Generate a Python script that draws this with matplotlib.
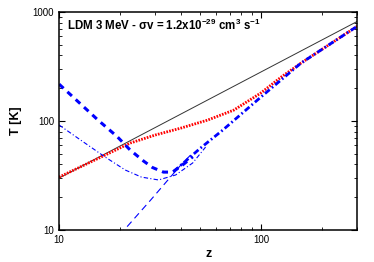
import numpy as np
import matplotlib
matplotlib.use('Agg')
import matplotlib.pyplot as plt

plt.rcParams['font.family'] = ['Liberation Sans', 'DejaVu Sans']
plt.rcParams['mathtext.fontset'] = 'custom'
plt.rcParams['mathtext.rm'] = 'Liberation Sans:bold'
plt.rcParams['mathtext.bf'] = 'Liberation Sans:bold'
plt.rcParams['mathtext.it'] = 'Liberation Sans:bold'
plt.rcParams['mathtext.sf'] = 'Liberation Sans:bold'

# CMB temperature
z_cmb = [10, 300]
T_cmb = [30, 820]

# gas temperature with DM (red dotted)
z_red = [10, 16.9, 22.5, 30, 40, 54.4, 73.4, 100, 126, 158, 300]
T_red = [30.6, 48.7, 62.8, 74.5, 86, 102, 126, 181, 253, 340, 740]

# blue thick dash-dot
z_bdd = [37, 50.2, 64.7, 100, 158, 300]
T_bdd = [34.5, 56.5, 82.6, 166, 340, 740]

# blue thick dashed (big U)
z_bdash = [10, 12.7, 15.6, 19.4, 22.5, 26.2, 29.0, 32.9, 36.5, 40.9, 46]
T_bdash = [218, 145, 102, 72, 54.2, 43, 37.5, 34, 34.0, 39.5, 47]

# blue thin dash-dot (small U)
z_bthin = [10, 12.7, 16.9, 21.3, 25.6, 31.1, 37.8, 45.9, 53.2]
T_bthin = [92, 67.5, 46.8, 35.5, 30.6, 28.8, 32, 41.2, 57.7]

# blue thin dashed (adiabatic)
z_adia = [20, 21.0, 28.4, 40.9, 45]
T_adia = [9.0, 10, 18.8, 41.2, 49]

fig = plt.figure(figsize=(3.74, 2.62), dpi=100)
ax = fig.add_axes([0.158, 0.122, 0.797, 0.832])

ax.plot(z_cmb, T_cmb, color='#333333', lw=0.7)
ax.plot(z_red, T_red, color='red', lw=2.0, ls=(0, (0.6, 0.45)))
ax.plot(z_bdd, T_bdd, color='blue', lw=2.0, ls=(0, (2.2, 1.0, 0.6, 1.0)))
ax.plot(z_bdash, T_bdash, color='blue', lw=2.2, ls=(0, (2.0, 1.7)))
ax.plot(z_bthin, T_bthin, color='blue', lw=0.8, ls=(0, (4, 2, 1, 2)))
ax.plot(z_adia, T_adia, color='blue', lw=0.8, ls=(0, (6, 4)))

ax.set_xscale('log')
ax.set_yscale('log')
ax.set_xlim(10, 300)
ax.set_ylim(10, 1000)

ax.tick_params(which='both', direction='in', top=True, right=True, labelsize=7)
ax.tick_params(which='major', length=4, width=0.8)
ax.tick_params(which='minor', length=2, width=0.6)
ax.xaxis.set_major_formatter(matplotlib.ticker.FormatStrFormatter('%d'))
ax.yaxis.set_major_formatter(matplotlib.ticker.FormatStrFormatter('%d'))
for s in ax.spines.values():
    s.set_linewidth(1.1)

ax.set_xlabel('z', fontsize=9, fontweight='bold', labelpad=2.5)
ax.set_ylabel('T [K]', fontsize=9, fontweight='bold', labelpad=8)

ax.text(0.027, 0.94, 'LDM 3 MeV - $\\sigma$v = 1.2x10$^{-29}$ cm$^{3}$ s$^{-1}$',
        transform=ax.transAxes, fontsize=8.3, fontweight='bold', va='center')

fig.savefig('out.png', dpi=100)
